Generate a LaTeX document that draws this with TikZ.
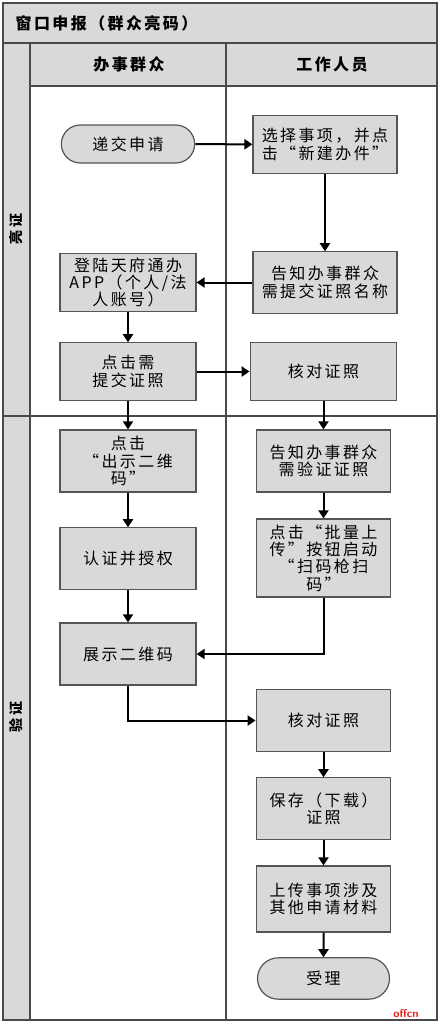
\documentclass[tikz,border=0pt]{standalone}
\usepackage{fontspec}
\usepackage{tikz}
\usetikzlibrary{arrows.meta,positioning,shapes.misc}
\newfontfamily\cjk{Noto Sans CJK SC}[LetterSpace=15]
\definecolor{lanegray}{HTML}{D9D9D9}
\definecolor{laneline}{HTML}{4A4A4A}
\definecolor{boxgray}{HTML}{D9D9D9}
\definecolor{boxline}{HTML}{555555}
\definecolor{markred}{HTML}{E8201C}
\tikzset{
  flowbox/.style={draw=boxline, fill=boxgray, line width=0.9pt, align=center,
    inner sep=1pt, font=\cjk\fontsize{12}{13}\selectfont},
  leftflow/.style={flowbox, minimum width=102pt},
  rightflow/.style={flowbox, minimum width=101pt},
  wideflow/.style={flowbox, minimum width=108pt},
  endbox/.style={flowbox, rounded rectangle},
  arr/.style={-{Triangle[length=6pt,width=7.5pt]}, line width=1.5pt},
  lane/.style={draw=laneline, line width=1.2pt},
  lanehead/.style={font=\cjk\bfseries\fontsize{12}{14}\selectfont},
  phaselabel/.style={rotate=90, font=\cjk\bfseries\fontsize{10.5}{12}\selectfont}
}
\begin{document}
\begin{tikzpicture}[x=0.75pt,y=-0.75pt]
  \useasboundingbox (0,0) rectangle (440,1024);
  \fill[lanegray] (3,3) rectangle (437,43);
  \fill[lanegray] (3,43) rectangle (30,1020);
  \fill[lanegray] (30,43) rectangle (437,86);
  \draw[lane] (3,3) rectangle (437,1020);
  \draw[lane] (3,43) -- (437,43);
  \draw[lane] (30,86) -- (437,86);
  \draw[lane] (30,43) -- (30,1020);
  \draw[lane] (226,43) -- (226,1020);
  \draw[lane] (3,416) -- (437,416);

  \node[lanehead, anchor=west] (title) at (11,23) {窗口申报（群众亮码）};
  \node[lanehead] (citizen) at (129,64.5) {办事群众};
  \node[lanehead] (staff) at (332,64.5) {工作人员};
  \node[phaselabel] (show) at (16,229) {亮证};
  \node[phaselabel] (verify) at (16,717) {验证};

  \node[endbox, minimum width=102pt, minimum height=28.5pt] (submit) at (128,144) {递交申请};
  \node[wideflow, minimum height=43pt] (choose) at (325,144.5) {选择事项，并点\\击“新建办件”};
  \node[wideflow, minimum height=46pt] (notify) at (325,282.5) {告知办事群众\\需提交证照名称};
  \node[leftflow, minimum height=43pt] (login) at (128,282.5) {登陆天府通办\\APP（个人/法\\人账号）};
  \node[leftflow, minimum height=43pt] (pick) at (128,371.5) {点击需\\提交证照};
  \node[wideflow, minimum width=110pt, minimum height=43pt] (check) at (323.5,371.5) {核对证照};
  \node[leftflow, minimum height=46.5pt] (showqr) at (128,461) {点击\\“出示二维\\码”};
  \node[rightflow, minimum height=46.5pt] (needcheck) at (323.5,461) {告知办事群众\\需验证证照};
  \node[leftflow, minimum height=46pt] (auth) at (128,558.5) {认证并授权};
  \node[rightflow, minimum height=58.5pt] (batch) at (323.5,558) {点击“批量上\\传”按钮启动\\“扫码枪扫\\码”};
  \node[leftflow, minimum height=46.5pt] (qrcode) at (128,654) {展示二维码};
  \node[rightflow, minimum height=46pt] (recheck) at (323.5,720.5) {核对证照};
  \node[rightflow, minimum height=46pt] (save) at (323.5,808.5) {保存（下载）\\证照};
  \node[rightflow, minimum height=49.5pt] (upload) at (323.5,899) {上传事项涉及\\其他申请材料};
  \node[endbox, minimum width=101pt, minimum height=31pt] (accept) at (323.5,978.5) {受理};

  \draw[arr] (submit) -- (choose);
  \draw[arr] (choose) -- (notify);
  \draw[arr] (notify) -- (login);
  \draw[arr] (login) -- (pick);
  \draw[arr] (pick) -- (check);
  \draw[arr] (pick) -- (showqr);
  \draw[arr] (check) -- (needcheck);
  \draw[arr] (needcheck) -- (batch);
  \draw[arr] (showqr) -- (auth);
  \draw[arr] (auth) -- (qrcode);
  \draw[arr] (batch.south) |- (qrcode.east);
  \draw[arr] (qrcode.south) |- (recheck.west);
  \draw[arr] (recheck) -- (save);
  \draw[arr] (save) -- (upload);
  \draw[arr] (upload) -- (accept);

  \node[text=markred, font=\bfseries\sffamily\fontsize{8.5}{9}\selectfont, inner sep=0pt] (mark) at (406,1014) {offcn};
\end{tikzpicture}
\end{document}
